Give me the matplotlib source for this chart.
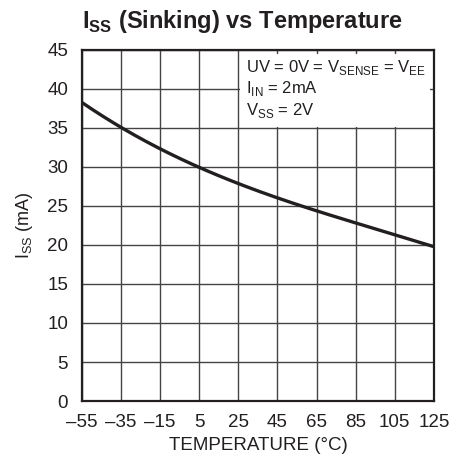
import matplotlib
matplotlib.use("Agg")
import matplotlib.pyplot as plt
from matplotlib.patches import Rectangle
import numpy as np

plt.rcParams['font.family'] = ['Liberation Sans', 'DejaVu Sans']
plt.rcParams['mathtext.fontset'] = 'custom'
plt.rcParams['mathtext.rm'] = 'Liberation Sans'
plt.rcParams['mathtext.bf'] = 'Liberation Sans:bold'

temperature = [-55, -35, -15, 5, 25, 45, 65, 85, 105, 125]
iss_ma = [38.3, 35.0, 32.3, 30.0, 27.9, 26.0, 24.4, 22.8, 21.3, 19.8]
x_ticks = [-55, -35, -15, 5, 25, 45, 65, 85, 105, 125]
x_tick_labels = ['\u201355', '\u201335', '\u201315', '5', '25', '45', '65', '85', '105', '125']
y_ticks = [0, 5, 10, 15, 20, 25, 30, 35, 40, 45]

INK = '#231f20'
fig = plt.figure(figsize=(4.63, 4.62), dpi=100)
ax = fig.add_axes([0.177, 0.132, 0.760, 0.760])

xs = np.linspace(-55, 125, 300)
coef = np.polyfit(temperature, iss_ma, 3)
ax.plot(xs, np.polyval(coef, xs), color=INK, lw=2.4, zorder=3, solid_capstyle='butt')

ax.set_xlim(-55, 125)
ax.set_ylim(0, 45)
ax.set_xticks(x_ticks)
ax.set_xticklabels(x_tick_labels)
ax.set_yticks(y_ticks)
ax.tick_params(axis='x', length=0, labelsize=13.5, pad=9, colors=INK)
ax.tick_params(axis='y', length=0, labelsize=13.5, pad=10, colors=INK)
ax.grid(True, color='#444444', lw=1.0, zorder=1)
ax.set_axisbelow(True)
for s in ax.spines.values():
    s.set_linewidth(1.6)
    s.set_color(INK)

# white note box (inset so grid stubs show at the top/right edges)
ax.add_patch(Rectangle((25.6, 35.15), 97.4, 9.35, facecolor='white', edgecolor='none', zorder=2))
ax.text(29.0, 44.0, r'UV = 0V = V$_{\mathregular{SENSE}}$ = V$_{\mathregular{EE}}$' + '\n' +
        r'I$_{\mathregular{IN}}$ = 2mA' + '\n' + r'V$_{\mathregular{SS}}$ = 2V',
        fontsize=12, va='top', ha='left', color=INK, zorder=4, linespacing=1.2)

ax.set_xlabel('TEMPERATURE (\u00b0C)', fontsize=13.5, color=INK, labelpad=5)
ax.set_ylabel(r'I$_{\mathregular{SS}}$ (mA)', fontsize=13, color=INK, labelpad=9)
fig.text(0.177, 0.939, r'I$_{\mathbf{SS}}$ (Sinking) vs Temperature', fontsize=17,
         fontweight='bold', color=INK, ha='left', va='baseline')

fig.savefig('out.png', dpi=100)
